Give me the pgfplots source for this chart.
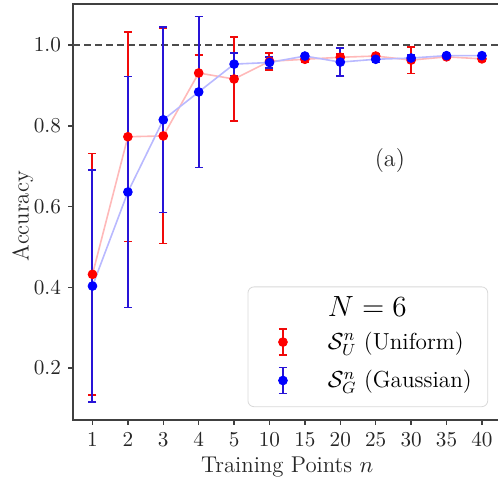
\RequirePackage{fix-cm}
\documentclass[border=0pt]{standalone}
\usepackage{fontspec}
\usepackage{pgfplots}
\usepackage{pgfplotstable}
\pgfplotsset{compat=1.18}

\definecolor{ured}{RGB}{240,10,10}
\definecolor{gblue}{RGB}{40,20,215}
\definecolor{ulight}{RGB}{255,185,185}
\definecolor{glight}{RGB}{185,185,255}

% idx: position of n = 1,2,3,4,5,10,...,40
\pgfplotstableread{
idx  u      ue     g      ge
0    0.432  0.299  0.403  0.287
1    0.773  0.260  0.636  0.286
2    0.775  0.267  0.815  0.230
3    0.931  0.045  0.884  0.187
4    0.916  0.104  0.953  0.028
5    0.960  0.021  0.957  0.013
6    0.965  0.008  0.973  0.004
7    0.970  0.008  0.958  0.035
8    0.973  0.005  0.965  0.008
9    0.963  0.033  0.968  0.008
10   0.971  0.004  0.974  0.003
11   0.966  0.006  0.974  0.004
}\acc

\begin{document}
\begin{tikzpicture}
\begin{axis}[
  at={(0,0)}, anchor=south west,
  scale only axis, width=214.2pt, height=208pt,
  xmin=-0.55, xmax=11.55, ymin=0.071, ymax=1.102,
  xtick={0,...,11},
  xticklabels={1,2,3,4,5,10,15,20,25,30,35,40},
  ytick={0.2,0.4,0.6,0.8,1.0},
  yticklabel style={/pgf/number format/.cd, fixed, fixed zerofill, precision=1},
  tick pos=left, tick align=outside,
  major tick length=2.5pt,
  tick style={black!75, line width=0.7pt},
  axis line style={black!75, line width=0.75pt},
  tick label style={font=\fontsize{10.6}{13}\selectfont, text=black!85},
  xlabel={Training Points $n$},
  ylabel={Accuracy},
  every axis x label/.style={at={(axis description cs:0.5,-0.113)}, anchor=center,
    font=\fontsize{11.4}{14}\selectfont, text=black!85},
  every axis y label/.style={at={(axis description cs:-0.117,0.49)}, rotate=90, anchor=center,
    font=\fontsize{11.4}{14}\selectfont, text=black!85},
  legend style={at={(0.969,0.031)}, anchor=south east,
    draw=black!15, rounded corners=3pt, fill=white,
    inner xsep=6pt, inner ysep=6pt, row sep=5pt,
    font=\fontsize{11.6}{14}\selectfont},
  legend cell align=left,
]
\addlegendimage{empty legend}
\addlegendentry{\raisebox{-3pt}[4pt][0pt]{\fontsize{14.6}{17}\selectfont$N=6$}}

% reference line at 1
\addplot[black!70, line width=0.9pt, dash pattern=on 3.5pt off 2pt, forget plot]
  coordinates {(-0.55,1) (11.55,1)};

% connecting lines
\addplot[ulight, line width=0.8pt, forget plot] table[x=idx, y=u] {\acc};
\addplot[glight, line width=0.8pt, forget plot] table[x=idx, y=g] {\acc};

% error bars
\addplot[draw=none, mark=none, forget plot,
  error bars/.cd, y dir=both, y explicit,
  error bar style={draw=ured, line width=1pt},
  error mark options={draw=ured, rotate=90, mark size=2pt, line width=0.8pt}]
  table[x=idx, y=u, y error=ue] {\acc};
\addplot[draw=none, mark=none, forget plot,
  error bars/.cd, y dir=both, y explicit,
  error bar style={draw=gblue, line width=1pt},
  error mark options={draw=gblue, rotate=90, mark size=2pt, line width=0.8pt}]
  table[x=idx, y=g, y error=ge] {\acc};

% markers
\addplot[only marks, mark=*, mark size=2.2pt, mark options={draw=red, fill=red},
  legend image code/.code={
    \path[draw=none, fill=none] (0pt,0pt) -- (32pt,0pt);
    \draw[ured, line width=1pt] (11.5pt,-6.5pt) -- (11.5pt,6.5pt);
    \draw[ured, line width=0.8pt] (9.5pt,-6.5pt) -- (13.5pt,-6.5pt) (9.5pt,6.5pt) -- (13.5pt,6.5pt);
    \fill[red] (11.5pt,0pt) circle (2.2pt);
  }]
  table[x=idx, y=u] {\acc};
\addlegendentry{$\mathcal{S}_U^n$ (Uniform)}
\addplot[only marks, mark=*, mark size=2.2pt, mark options={draw=blue, fill=blue},
  legend image code/.code={
    \path[draw=none, fill=none] (0pt,0pt) -- (32pt,0pt);
    \draw[gblue, line width=1pt] (11.5pt,-6.5pt) -- (11.5pt,6.5pt);
    \draw[gblue, line width=0.8pt] (9.5pt,-6.5pt) -- (13.5pt,-6.5pt) (9.5pt,6.5pt) -- (13.5pt,6.5pt);
    \fill[blue] (11.5pt,0pt) circle (2.2pt);
  }]
  table[x=idx, y=g] {\acc};
\addlegendentry{$\mathcal{S}_G^n$ (Gaussian)}

\node[font=\fontsize{12}{14}\selectfont, text=black!85] at (axis cs:8.4,0.715) {(a)};
\end{axis}
\pgfresetboundingbox
\useasboundingbox (-36.5pt,-30.5pt) rectangle (212.5pt,210pt);
\end{tikzpicture}
\end{document}
